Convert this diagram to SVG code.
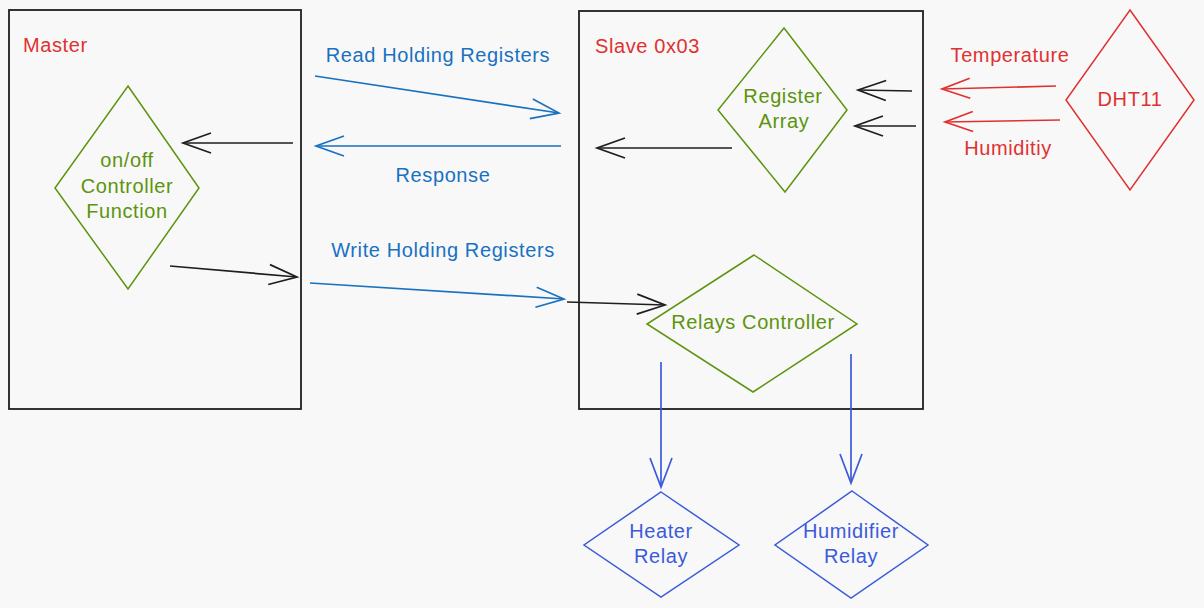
<svg xmlns="http://www.w3.org/2000/svg" width="1204" height="608" viewBox="0 0 1204 608">
<defs>
<style>
.t{font-family:"Liberation Sans","Open Sans",sans-serif;font-size:20px;letter-spacing:0.6px;text-anchor:middle}
.box{fill:none;stroke:#1e1e1e;stroke-width:1.8}
.dg{fill:none;stroke:#5c940d;stroke-width:1.5;stroke-linejoin:miter}
.dr{fill:none;stroke:#e03131;stroke-width:1.5}
.di{fill:none;stroke:#3b5bdb;stroke-width:1.5}
.ck{stroke:#1e1e1e;stroke-width:1.7;fill:none;marker-end:url(#mk)}
.cb{stroke:#1971c2;stroke-width:1.7;fill:none;marker-end:url(#mb)}
.cr{stroke:#e03131;stroke-width:1.7;fill:none;marker-end:url(#mr)}
.ci{stroke:#3b5bdb;stroke-width:1.7;fill:none;marker-end:url(#mi)}
.red{fill:#e03131}.grn{fill:#5c940d}.blu{fill:#1971c2}.ind{fill:#3b5bdb}
</style>
<marker id="mk" markerUnits="userSpaceOnUse" markerWidth="34" markerHeight="26" viewBox="-31 -13 34 26" refX="0" refY="0" orient="auto"><path d="M-28 -10 L0 0 L-28 10" fill="none" stroke="#1e1e1e" stroke-width="1.7"/></marker>
<marker id="mb" markerUnits="userSpaceOnUse" markerWidth="34" markerHeight="26" viewBox="-31 -13 34 26" refX="0" refY="0" orient="auto"><path d="M-28 -10 L0 0 L-28 10" fill="none" stroke="#1971c2" stroke-width="1.7"/></marker>
<marker id="mr" markerUnits="userSpaceOnUse" markerWidth="34" markerHeight="26" viewBox="-31 -13 34 26" refX="0" refY="0" orient="auto"><path d="M-28 -10 L0 0 L-28 10" fill="none" stroke="#e03131" stroke-width="1.7"/></marker>
<marker id="mi" markerUnits="userSpaceOnUse" markerWidth="34" markerHeight="26" viewBox="-31 -13 34 26" refX="0" refY="0" orient="auto"><path d="M-29 -11 L0 0 L-29 11" fill="none" stroke="#3b5bdb" stroke-width="1.7"/></marker>
</defs>
<rect width="1204" height="608" fill="#f8f8f8"/>

<g id="master">
<rect class="box" x="9" y="10" width="292" height="399"/>
<text class="t red" x="23" y="52" style="text-anchor:start">Master</text>
</g>

<g id="slave">
<rect class="box" x="579" y="11" width="344" height="398"/>
<text class="t red" x="595" y="53" style="text-anchor:start">Slave 0x03</text>
</g>

<g id="onoff">
<polygon class="dg" points="128,86 199,188 128,289 55,188"/>
<text class="t grn" x="127" y="167">on/off</text>
<text class="t grn" x="127" y="193">Controller</text>
<text class="t grn" x="127" y="218">Function</text>
</g>

<g id="register-array">
<polygon class="dg" points="784,28 847,110 785,192 718,110"/>
<text class="t grn" x="783" y="103">Register</text>
<text class="t grn" x="784" y="128">Array</text>
</g>

<g id="relays-controller">
<polygon class="dg" points="754,255 857,324 753,392 647,324"/>
<text class="t grn" x="753" y="329">Relays Controller</text>
</g>

<g id="dht11">
<polygon class="dr" points="1130,10 1194,100 1130,190 1066,100"/>
<text class="t red" x="1130" y="106">DHT11</text>
</g>

<g id="heater-relay">
<polygon class="di" points="661,492 739,545 661,597 584,545"/>
<text class="t ind" x="661" y="538">Heater</text>
<text class="t ind" x="661" y="563">Relay</text>
</g>

<g id="humidifier-relay">
<polygon class="di" points="852,491 928,545 851,598 775,545"/>
<text class="t ind" x="851" y="538">Humidifier</text>
<text class="t ind" x="851" y="563">Relay</text>
</g>

<g id="connectors">
<path class="ck" d="M293 143 L183 143"/>
<path class="ck" d="M170 266 L297 277"/>
<path class="cb" d="M315 76 L559 113"/>
<path class="cb" d="M561 146 L316 146"/>
<path class="cb" d="M310 283 L564 299"/>
<path class="ck" d="M732 148 L597 148"/>
<path class="ck" d="M912 91 L858 90"/>
<path class="ck" d="M916 126 L855 126"/>
<path class="cr" d="M1056 86 L942 89"/>
<path class="cr" d="M1060 120 L945 122"/>
<path class="ck" d="M567 302 L665 305"/>
<path class="ci" d="M661 362 L661 487"/>
<path class="ci" d="M851 354 L851 483"/>
<text class="t blu" x="438" y="62">Read Holding Registers</text>
<text class="t blu" x="443" y="182">Response</text>
<text class="t blu" x="443" y="257">Write Holding Registers</text>
<text class="t red" x="1010" y="62">Temperature</text>
<text class="t red" x="1008" y="155">Humiditiy</text>
</g>
</svg>
